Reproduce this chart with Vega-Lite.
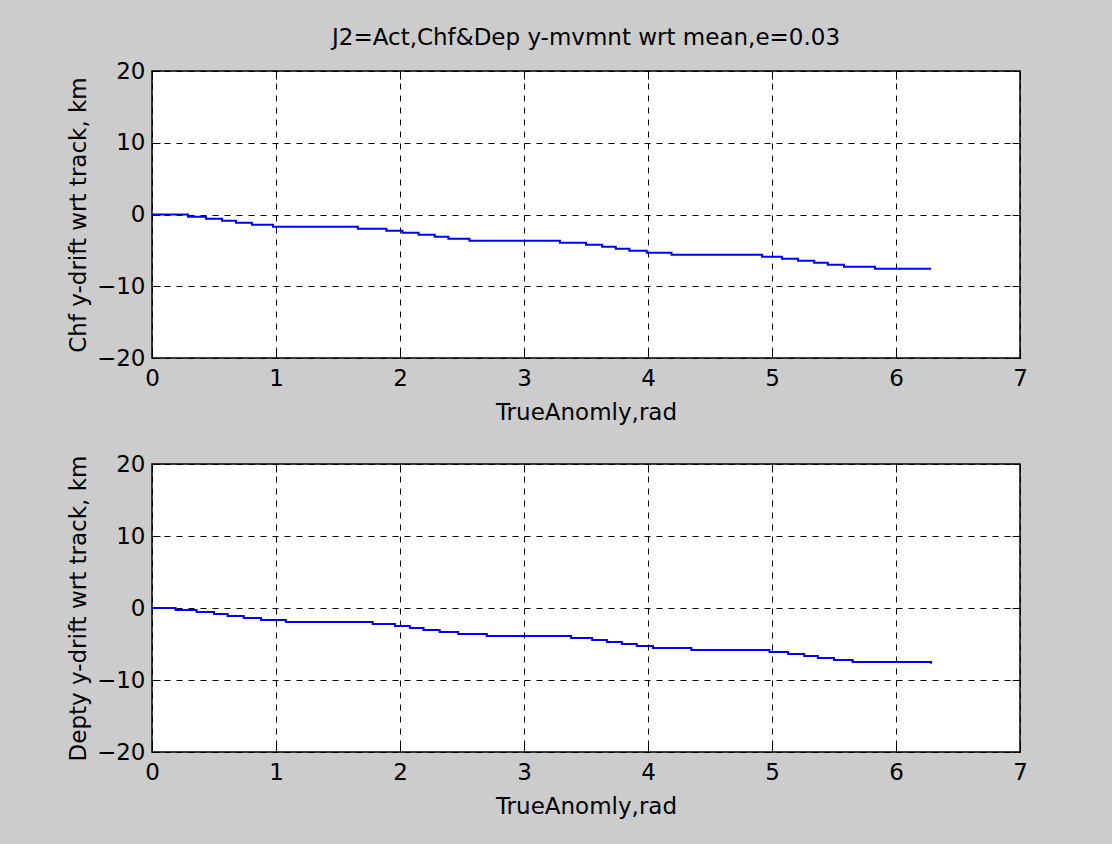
{
  "$schema": "https://vega.github.io/schema/vega-lite/v6.json",
  "background": "#cccccc",
  "padding": {"left": 66, "top": 26, "right": 90, "bottom": 26},
  "config": {
    "font": "DejaVu Sans",
    "view": {"fill": "white", "stroke": "black", "strokeWidth": 1.5},
    "axis": {
      "labelFont": "DejaVu Sans", "labelFontSize": 23, "labelColor": "black", "labelFlush": false,
      "titleFont": "DejaVu Sans", "titleFontSize": 23, "titleFontWeight": "normal", "titleColor": "black",
      "domain": false, "tickColor": "black", "tickSize": -8, "tickWidth": 1,
      "gridColor": "black", "gridDash": [6, 6], "gridOpacity": 1, "gridWidth": 1
    },
    "title": {"font": "DejaVu Sans", "fontSize": 23, "fontWeight": "normal", "color": "black"}
  },
  "datasets": {
    "chf": [
      {"anomaly": 0, "drift": 0},
      {"anomaly": 0.29, "drift": -0.32},
      {"anomaly": 0.435, "drift": -0.6},
      {"anomaly": 0.565, "drift": -0.88},
      {"anomaly": 0.677, "drift": -1.16},
      {"anomaly": 0.806, "drift": -1.43},
      {"anomaly": 0.976, "drift": -1.71},
      {"anomaly": 1.66, "drift": -1.99},
      {"anomaly": 1.89, "drift": -2.27},
      {"anomaly": 2.02, "drift": -2.55},
      {"anomaly": 2.15, "drift": -2.83},
      {"anomaly": 2.28, "drift": -3.1},
      {"anomaly": 2.39, "drift": -3.38},
      {"anomaly": 2.56, "drift": -3.66},
      {"anomaly": 3.29, "drift": -3.94},
      {"anomaly": 3.5, "drift": -4.22},
      {"anomaly": 3.63, "drift": -4.5},
      {"anomaly": 3.74, "drift": -4.78},
      {"anomaly": 3.85, "drift": -5.06},
      {"anomaly": 3.99, "drift": -5.33},
      {"anomaly": 4.19, "drift": -5.6},
      {"anomaly": 4.92, "drift": -5.88},
      {"anomaly": 5.08, "drift": -6.17},
      {"anomaly": 5.21, "drift": -6.45},
      {"anomaly": 5.34, "drift": -6.73},
      {"anomaly": 5.45, "drift": -7.0},
      {"anomaly": 5.58, "drift": -7.28},
      {"anomaly": 5.83, "drift": -7.56},
      {"anomaly": 6.283, "drift": -7.56}
    ],
    "dep": [
      {"anomaly": 0, "drift": 0},
      {"anomaly": 0.19, "drift": -0.28},
      {"anomaly": 0.36, "drift": -0.56},
      {"anomaly": 0.5, "drift": -0.83},
      {"anomaly": 0.61, "drift": -1.11},
      {"anomaly": 0.74, "drift": -1.39},
      {"anomaly": 0.88, "drift": -1.67},
      {"anomaly": 1.08, "drift": -1.94},
      {"anomaly": 1.78, "drift": -2.22},
      {"anomaly": 1.96, "drift": -2.5},
      {"anomaly": 2.08, "drift": -2.78},
      {"anomaly": 2.19, "drift": -3.06},
      {"anomaly": 2.32, "drift": -3.33},
      {"anomaly": 2.47, "drift": -3.61},
      {"anomaly": 2.7, "drift": -3.89},
      {"anomaly": 3.38, "drift": -4.17},
      {"anomaly": 3.55, "drift": -4.45},
      {"anomaly": 3.67, "drift": -4.72},
      {"anomaly": 3.79, "drift": -5.0},
      {"anomaly": 3.91, "drift": -5.28},
      {"anomaly": 4.04, "drift": -5.56},
      {"anomaly": 4.35, "drift": -5.83},
      {"anomaly": 4.98, "drift": -6.11},
      {"anomaly": 5.13, "drift": -6.39},
      {"anomaly": 5.26, "drift": -6.67},
      {"anomaly": 5.37, "drift": -6.95},
      {"anomaly": 5.5, "drift": -7.22},
      {"anomaly": 5.65, "drift": -7.5},
      {"anomaly": 6.27, "drift": -7.5},
      {"anomaly": 6.283, "drift": -7.75}
    ]
  },
  "bounds": "flush",
  "spacing": 106,
  "vconcat": [
    {
      "width": 868,
      "height": 287,
      "title": {"text": "J2=Act,Chf&Dep y-mvmnt wrt mean,e=0.03", "frame": "group", "anchor": "middle", "offset": -8, "baseline": "alphabetic"},
      "data": {"name": "chf"},
      "resolve": {"axis": {"x": "independent", "y": "independent"}},
      "layer": [
        {
          "mark": {"type": "line", "color": "#0000ff", "strokeWidth": 2, "interpolate": "step-after"},
          "encoding": {
            "x": {"field": "anomaly", "type": "quantitative", "scale": {"domain": [0, 7], "nice": false},
                  "axis": {"values": [0, 1, 2, 3, 4, 5, 6, 7], "title": "TrueAnomly,rad", "labelPadding": 17, "titlePadding": 11, "grid": true}},
            "y": {"field": "drift", "type": "quantitative", "scale": {"domain": [-20, 20], "nice": false},
                  "axis": {"values": [-20, -10, 0, 10, 20], "title": "Chf y-drift wrt track, km", "labelPadding": 15, "titlePadding": 6, "grid": true}}
          }
        },
        {
          "mark": {"type": "point", "opacity": 0},
          "encoding": {
            "x": {"field": "anomaly", "type": "quantitative",
                  "axis": {"orient": "top", "values": [0, 1, 2, 3, 4, 5, 6, 7], "labels": false, "title": null, "grid": false}},
            "y": {"field": "drift", "type": "quantitative",
                  "axis": {"orient": "right", "values": [-20, -10, 0, 10, 20], "labels": false, "title": null, "grid": false}}
          }
        }
      ]
    },
    {
      "width": 868,
      "height": 288,
      "data": {"name": "dep"},
      "resolve": {"axis": {"x": "independent", "y": "independent"}},
      "layer": [
        {
          "mark": {"type": "line", "color": "#0000ff", "strokeWidth": 2, "interpolate": "step-after"},
          "encoding": {
            "x": {"field": "anomaly", "type": "quantitative", "scale": {"domain": [0, 7], "nice": false},
                  "axis": {"values": [0, 1, 2, 3, 4, 5, 6, 7], "title": "TrueAnomly,rad", "labelPadding": 17, "titlePadding": 11, "grid": true}},
            "y": {"field": "drift", "type": "quantitative", "scale": {"domain": [-20, 20], "nice": false},
                  "axis": {"values": [-20, -10, 0, 10, 20], "title": "Depty y-drift wrt track, km", "labelPadding": 15, "titlePadding": 6, "grid": true}}
          }
        },
        {
          "mark": {"type": "point", "opacity": 0},
          "encoding": {
            "x": {"field": "anomaly", "type": "quantitative",
                  "axis": {"orient": "top", "values": [0, 1, 2, 3, 4, 5, 6, 7], "labels": false, "title": null, "grid": false}},
            "y": {"field": "drift", "type": "quantitative",
                  "axis": {"orient": "right", "values": [-20, -10, 0, 10, 20], "labels": false, "title": null, "grid": false}}
          }
        }
      ]
    }
  ]
}
